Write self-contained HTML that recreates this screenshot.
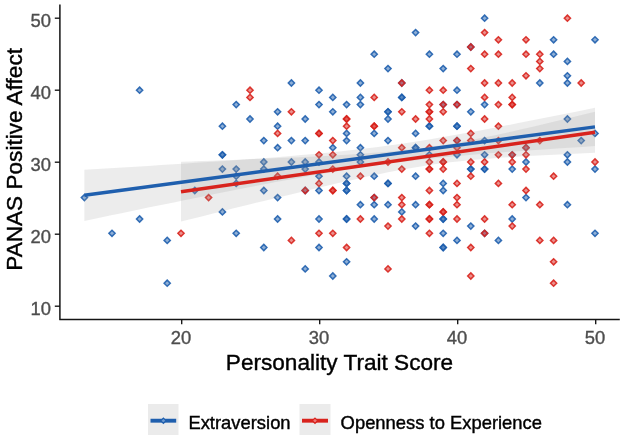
<!DOCTYPE html>
<html><head><meta charset="utf-8"><title>Plot</title>
<style>html,body{margin:0;padding:0;background:#fff}svg{display:block}</style></head>
<body>
<svg width="624" height="439" viewBox="0 0 624 439">
<rect width="624" height="439" fill="#fff"/>
<g fill="#1f5fae" fill-opacity="0.5" stroke="#1f5fae" stroke-opacity="0.9" stroke-width="1.5" stroke-linejoin="miter">
<path d="M84.4 194.5L87.5 197.6L84.4 200.7L81.3 197.6Z"/>
<path d="M112.0 230.2L115.1 233.3L112.0 236.4L108.9 233.3Z"/>
<path d="M139.6 87.1L142.7 90.2L139.6 93.3L136.5 90.2Z"/>
<path d="M139.6 215.9L142.7 219.0L139.6 222.1L136.5 219.0Z"/>
<path d="M167.2 237.3L170.3 240.4L167.2 243.5L164.1 240.4Z"/>
<path d="M167.2 280.1L170.3 283.2L167.2 286.3L164.1 283.2Z"/>
<path d="M194.8 187.4L197.9 190.5L194.8 193.6L191.7 190.5Z"/>
<path d="M222.4 123.1L225.5 126.2L222.4 129.3L219.3 126.2Z"/>
<path d="M222.4 151.7L225.5 154.8L222.4 157.9L219.3 154.8Z"/>
<path d="M222.4 151.7L225.5 154.8L222.4 157.9L219.3 154.8Z"/>
<path d="M222.4 166.0L225.5 169.1L222.4 172.2L219.3 169.1Z"/>
<path d="M222.4 208.8L225.5 211.9L222.4 215.0L219.3 211.9Z"/>
<path d="M236.2 101.5L239.3 104.6L236.2 107.7L233.1 104.6Z"/>
<path d="M236.2 166.0L239.3 169.1L236.2 172.2L233.1 169.1Z"/>
<path d="M236.2 173.1L239.3 176.2L236.2 179.3L233.1 176.2Z"/>
<path d="M236.2 180.3L239.3 183.4L236.2 186.5L233.1 183.4Z"/>
<path d="M236.2 230.2L239.3 233.3L236.2 236.4L233.1 233.3Z"/>
<path d="M250.0 115.9L253.1 119.0L250.0 122.1L246.9 119.0Z"/>
<path d="M263.8 137.5L266.9 140.6L263.8 143.7L260.7 140.6Z"/>
<path d="M263.8 158.9L266.9 162.0L263.8 165.1L260.7 162.0Z"/>
<path d="M263.8 166.0L266.9 169.1L263.8 172.2L260.7 169.1Z"/>
<path d="M263.8 187.4L266.9 190.5L263.8 193.6L260.7 190.5Z"/>
<path d="M263.8 244.4L266.9 247.5L263.8 250.6L260.7 247.5Z"/>
<path d="M277.6 108.7L280.7 111.8L277.6 114.9L274.5 111.8Z"/>
<path d="M277.6 123.1L280.7 126.2L277.6 129.3L274.5 126.2Z"/>
<path d="M277.6 144.6L280.7 147.7L277.6 150.8L274.5 147.7Z"/>
<path d="M277.6 194.5L280.7 197.6L277.6 200.7L274.5 197.6Z"/>
<path d="M277.6 215.9L280.7 219.0L277.6 222.1L274.5 219.0Z"/>
<path d="M291.4 79.9L294.5 83.0L291.4 86.1L288.3 83.0Z"/>
<path d="M291.4 137.5L294.5 140.6L291.4 143.7L288.3 140.6Z"/>
<path d="M291.4 158.9L294.5 162.0L291.4 165.1L288.3 162.0Z"/>
<path d="M305.2 115.9L308.3 119.0L305.2 122.1L302.1 119.0Z"/>
<path d="M305.2 137.5L308.3 140.6L305.2 143.7L302.1 140.6Z"/>
<path d="M305.2 158.9L308.3 162.0L305.2 165.1L302.1 162.0Z"/>
<path d="M305.2 166.0L308.3 169.1L305.2 172.2L302.1 169.1Z"/>
<path d="M305.2 187.4L308.3 190.5L305.2 193.6L302.1 190.5Z"/>
<path d="M305.2 265.8L308.3 268.9L305.2 272.0L302.1 268.9Z"/>
<path d="M319.0 87.1L322.1 90.2L319.0 93.3L315.9 90.2Z"/>
<path d="M319.0 101.5L322.1 104.6L319.0 107.7L315.9 104.6Z"/>
<path d="M319.0 158.9L322.1 162.0L319.0 165.1L315.9 162.0Z"/>
<path d="M319.0 173.1L322.1 176.2L319.0 179.3L315.9 176.2Z"/>
<path d="M319.0 187.4L322.1 190.5L319.0 193.6L315.9 190.5Z"/>
<path d="M319.0 215.9L322.1 219.0L319.0 222.1L315.9 219.0Z"/>
<path d="M319.0 244.4L322.1 247.5L319.0 250.6L315.9 247.5Z"/>
<path d="M332.8 94.3L335.9 97.4L332.8 100.5L329.7 97.4Z"/>
<path d="M332.8 108.7L335.9 111.8L332.8 114.9L329.7 111.8Z"/>
<path d="M332.8 144.6L335.9 147.7L332.8 150.8L329.7 147.7Z"/>
<path d="M332.8 272.9L335.9 276.0L332.8 279.1L329.7 276.0Z"/>
<path d="M346.6 101.5L349.7 104.6L346.6 107.7L343.5 104.6Z"/>
<path d="M346.6 130.3L349.7 133.4L346.6 136.5L343.5 133.4Z"/>
<path d="M346.6 137.5L349.7 140.6L346.6 143.7L343.5 140.6Z"/>
<path d="M346.6 173.1L349.7 176.2L346.6 179.3L343.5 176.2Z"/>
<path d="M346.6 180.3L349.7 183.4L346.6 186.5L343.5 183.4Z"/>
<path d="M346.6 180.3L349.7 183.4L346.6 186.5L343.5 183.4Z"/>
<path d="M346.6 187.4L349.7 190.5L346.6 193.6L343.5 190.5Z"/>
<path d="M346.6 187.4L349.7 190.5L346.6 193.6L343.5 190.5Z"/>
<path d="M346.6 215.9L349.7 219.0L346.6 222.1L343.5 219.0Z"/>
<path d="M346.6 215.9L349.7 219.0L346.6 222.1L343.5 219.0Z"/>
<path d="M346.6 258.7L349.7 261.8L346.6 264.9L343.5 261.8Z"/>
<path d="M360.4 79.9L363.5 83.0L360.4 86.1L357.3 83.0Z"/>
<path d="M360.4 94.3L363.5 97.4L360.4 100.5L357.3 97.4Z"/>
<path d="M360.4 101.5L363.5 104.6L360.4 107.7L357.3 104.6Z"/>
<path d="M360.4 144.6L363.5 147.7L360.4 150.8L357.3 147.7Z"/>
<path d="M360.4 151.7L363.5 154.8L360.4 157.9L357.3 154.8Z"/>
<path d="M360.4 158.9L363.5 162.0L360.4 165.1L357.3 162.0Z"/>
<path d="M360.4 201.6L363.5 204.7L360.4 207.8L357.3 204.7Z"/>
<path d="M374.2 51.1L377.3 54.2L374.2 57.3L371.1 54.2Z"/>
<path d="M374.2 130.3L377.3 133.4L374.2 136.5L371.1 133.4Z"/>
<path d="M374.2 173.1L377.3 176.2L374.2 179.3L371.1 176.2Z"/>
<path d="M374.2 194.5L377.3 197.6L374.2 200.7L371.1 197.6Z"/>
<path d="M374.2 201.6L377.3 204.7L374.2 207.8L371.1 204.7Z"/>
<path d="M374.2 215.9L377.3 219.0L374.2 222.1L371.1 219.0Z"/>
<path d="M388.0 65.5L391.1 68.6L388.0 71.7L384.9 68.6Z"/>
<path d="M388.0 108.7L391.1 111.8L388.0 114.9L384.9 111.8Z"/>
<path d="M388.0 108.7L391.1 111.8L388.0 114.9L384.9 111.8Z"/>
<path d="M388.0 115.9L391.1 119.0L388.0 122.1L384.9 119.0Z"/>
<path d="M388.0 137.5L391.1 140.6L388.0 143.7L384.9 140.6Z"/>
<path d="M388.0 180.3L391.1 183.4L388.0 186.5L384.9 183.4Z"/>
<path d="M388.0 180.3L391.1 183.4L388.0 186.5L384.9 183.4Z"/>
<path d="M388.0 201.6L391.1 204.7L388.0 207.8L384.9 204.7Z"/>
<path d="M401.8 79.9L404.9 83.0L401.8 86.1L398.7 83.0Z"/>
<path d="M401.8 94.3L404.9 97.4L401.8 100.5L398.7 97.4Z"/>
<path d="M401.8 94.3L404.9 97.4L401.8 100.5L398.7 97.4Z"/>
<path d="M401.8 208.8L404.9 211.9L401.8 215.0L398.7 211.9Z"/>
<path d="M415.6 29.5L418.7 32.6L415.6 35.7L412.5 32.6Z"/>
<path d="M415.6 130.3L418.7 133.4L415.6 136.5L412.5 133.4Z"/>
<path d="M415.6 144.6L418.7 147.7L415.6 150.8L412.5 147.7Z"/>
<path d="M415.6 144.6L418.7 147.7L415.6 150.8L412.5 147.7Z"/>
<path d="M415.6 173.1L418.7 176.2L415.6 179.3L412.5 176.2Z"/>
<path d="M415.6 201.6L418.7 204.7L415.6 207.8L412.5 204.7Z"/>
<path d="M415.6 223.0L418.7 226.1L415.6 229.2L412.5 226.1Z"/>
<path d="M429.4 51.1L432.5 54.2L429.4 57.3L426.3 54.2Z"/>
<path d="M429.4 123.1L432.5 126.2L429.4 129.3L426.3 126.2Z"/>
<path d="M429.4 123.1L432.5 126.2L429.4 129.3L426.3 126.2Z"/>
<path d="M429.4 151.7L432.5 154.8L429.4 157.9L426.3 154.8Z"/>
<path d="M443.2 65.5L446.3 68.6L443.2 71.7L440.1 68.6Z"/>
<path d="M443.2 101.5L446.3 104.6L443.2 107.7L440.1 104.6Z"/>
<path d="M443.2 180.3L446.3 183.4L443.2 186.5L440.1 183.4Z"/>
<path d="M443.2 187.4L446.3 190.5L443.2 193.6L440.1 190.5Z"/>
<path d="M443.2 215.9L446.3 219.0L443.2 222.1L440.1 219.0Z"/>
<path d="M443.2 215.9L446.3 219.0L443.2 222.1L440.1 219.0Z"/>
<path d="M443.2 230.2L446.3 233.3L443.2 236.4L440.1 233.3Z"/>
<path d="M443.2 244.4L446.3 247.5L443.2 250.6L440.1 247.5Z"/>
<path d="M443.2 244.4L446.3 247.5L443.2 250.6L440.1 247.5Z"/>
<path d="M457.0 51.1L460.1 54.2L457.0 57.3L453.9 54.2Z"/>
<path d="M457.0 87.1L460.1 90.2L457.0 93.3L453.9 90.2Z"/>
<path d="M457.0 101.5L460.1 104.6L457.0 107.7L453.9 104.6Z"/>
<path d="M457.0 123.1L460.1 126.2L457.0 129.3L453.9 126.2Z"/>
<path d="M457.0 123.1L460.1 126.2L457.0 129.3L453.9 126.2Z"/>
<path d="M457.0 137.5L460.1 140.6L457.0 143.7L453.9 140.6Z"/>
<path d="M457.0 151.7L460.1 154.8L457.0 157.9L453.9 154.8Z"/>
<path d="M457.0 237.3L460.1 240.4L457.0 243.5L453.9 240.4Z"/>
<path d="M470.8 43.9L473.9 47.0L470.8 50.1L467.7 47.0Z"/>
<path d="M470.8 108.7L473.9 111.8L470.8 114.9L467.7 111.8Z"/>
<path d="M470.8 166.0L473.9 169.1L470.8 172.2L467.7 169.1Z"/>
<path d="M470.8 166.0L473.9 169.1L470.8 172.2L467.7 169.1Z"/>
<path d="M470.8 223.0L473.9 226.1L470.8 229.2L467.7 226.1Z"/>
<path d="M484.6 15.1L487.7 18.2L484.6 21.3L481.5 18.2Z"/>
<path d="M484.6 101.5L487.7 104.6L484.6 107.7L481.5 104.6Z"/>
<path d="M484.6 137.5L487.7 140.6L484.6 143.7L481.5 140.6Z"/>
<path d="M484.6 151.7L487.7 154.8L484.6 157.9L481.5 154.8Z"/>
<path d="M484.6 166.0L487.7 169.1L484.6 172.2L481.5 169.1Z"/>
<path d="M484.6 166.0L487.7 169.1L484.6 172.2L481.5 169.1Z"/>
<path d="M484.6 230.2L487.7 233.3L484.6 236.4L481.5 233.3Z"/>
<path d="M498.4 237.3L501.5 240.4L498.4 243.5L495.3 240.4Z"/>
<path d="M512.2 151.7L515.3 154.8L512.2 157.9L509.1 154.8Z"/>
<path d="M512.2 166.0L515.3 169.1L512.2 172.2L509.1 169.1Z"/>
<path d="M512.2 215.9L515.3 219.0L512.2 222.1L509.1 219.0Z"/>
<path d="M526.0 144.6L529.1 147.7L526.0 150.8L522.9 147.7Z"/>
<path d="M526.0 158.9L529.1 162.0L526.0 165.1L522.9 162.0Z"/>
<path d="M526.0 194.5L529.1 197.6L526.0 200.7L522.9 197.6Z"/>
<path d="M539.8 79.9L542.9 83.0L539.8 86.1L536.7 83.0Z"/>
<path d="M553.6 36.7L556.7 39.8L553.6 42.9L550.5 39.8Z"/>
<path d="M553.6 51.1L556.7 54.2L553.6 57.3L550.5 54.2Z"/>
<path d="M567.4 58.3L570.5 61.4L567.4 64.5L564.3 61.4Z"/>
<path d="M567.4 72.7L570.5 75.8L567.4 78.9L564.3 75.8Z"/>
<path d="M567.4 79.9L570.5 83.0L567.4 86.1L564.3 83.0Z"/>
<path d="M567.4 115.9L570.5 119.0L567.4 122.1L564.3 119.0Z"/>
<path d="M567.4 151.7L570.5 154.8L567.4 157.9L564.3 154.8Z"/>
<path d="M567.4 158.9L570.5 162.0L567.4 165.1L564.3 162.0Z"/>
<path d="M567.4 201.6L570.5 204.7L567.4 207.8L564.3 204.7Z"/>
<path d="M581.2 137.5L584.3 140.6L581.2 143.7L578.1 140.6Z"/>
<path d="M595.0 36.7L598.1 39.8L595.0 42.9L591.9 39.8Z"/>
<path d="M595.0 130.3L598.1 133.4L595.0 136.5L591.9 133.4Z"/>
<path d="M595.0 166.0L598.1 169.1L595.0 172.2L591.9 169.1Z"/>
<path d="M595.0 230.2L598.1 233.3L595.0 236.4L591.9 233.3Z"/>
</g>
<g fill="#d8231d" fill-opacity="0.5" stroke="#d8231d" stroke-opacity="0.9" stroke-width="1.5" stroke-linejoin="miter">
<path d="M181.0 230.2L184.1 233.3L181.0 236.4L177.9 233.3Z"/>
<path d="M208.6 194.5L211.7 197.6L208.6 200.7L205.5 197.6Z"/>
<path d="M250.0 87.1L253.1 90.2L250.0 93.3L246.9 90.2Z"/>
<path d="M250.0 94.3L253.1 97.4L250.0 100.5L246.9 97.4Z"/>
<path d="M277.6 130.3L280.7 133.4L277.6 136.5L274.5 133.4Z"/>
<path d="M277.6 173.1L280.7 176.2L277.6 179.3L274.5 176.2Z"/>
<path d="M291.4 108.7L294.5 111.8L291.4 114.9L288.3 111.8Z"/>
<path d="M291.4 237.3L294.5 240.4L291.4 243.5L288.3 240.4Z"/>
<path d="M305.2 187.4L308.3 190.5L305.2 193.6L302.1 190.5Z"/>
<path d="M319.0 130.3L322.1 133.4L319.0 136.5L315.9 133.4Z"/>
<path d="M319.0 130.3L322.1 133.4L319.0 136.5L315.9 133.4Z"/>
<path d="M319.0 151.7L322.1 154.8L319.0 157.9L315.9 154.8Z"/>
<path d="M319.0 180.3L322.1 183.4L319.0 186.5L315.9 183.4Z"/>
<path d="M319.0 230.2L322.1 233.3L319.0 236.4L315.9 233.3Z"/>
<path d="M332.8 137.5L335.9 140.6L332.8 143.7L329.7 140.6Z"/>
<path d="M332.8 151.7L335.9 154.8L332.8 157.9L329.7 154.8Z"/>
<path d="M332.8 166.0L335.9 169.1L332.8 172.2L329.7 169.1Z"/>
<path d="M332.8 187.4L335.9 190.5L332.8 193.6L329.7 190.5Z"/>
<path d="M332.8 187.4L335.9 190.5L332.8 193.6L329.7 190.5Z"/>
<path d="M332.8 230.2L335.9 233.3L332.8 236.4L329.7 233.3Z"/>
<path d="M346.6 115.9L349.7 119.0L346.6 122.1L343.5 119.0Z"/>
<path d="M346.6 115.9L349.7 119.0L346.6 122.1L343.5 119.0Z"/>
<path d="M346.6 123.1L349.7 126.2L346.6 129.3L343.5 126.2Z"/>
<path d="M346.6 244.4L349.7 247.5L346.6 250.6L343.5 247.5Z"/>
<path d="M360.4 173.1L363.5 176.2L360.4 179.3L357.3 176.2Z"/>
<path d="M360.4 215.9L363.5 219.0L360.4 222.1L357.3 219.0Z"/>
<path d="M374.2 94.3L377.3 97.4L374.2 100.5L371.1 97.4Z"/>
<path d="M374.2 123.1L377.3 126.2L374.2 129.3L371.1 126.2Z"/>
<path d="M374.2 123.1L377.3 126.2L374.2 129.3L371.1 126.2Z"/>
<path d="M374.2 194.5L377.3 197.6L374.2 200.7L371.1 197.6Z"/>
<path d="M388.0 158.9L391.1 162.0L388.0 165.1L384.9 162.0Z"/>
<path d="M388.0 223.0L391.1 226.1L388.0 229.2L384.9 226.1Z"/>
<path d="M388.0 265.8L391.1 268.9L388.0 272.0L384.9 268.9Z"/>
<path d="M401.8 79.9L404.9 83.0L401.8 86.1L398.7 83.0Z"/>
<path d="M401.8 108.7L404.9 111.8L401.8 114.9L398.7 111.8Z"/>
<path d="M401.8 144.6L404.9 147.7L401.8 150.8L398.7 147.7Z"/>
<path d="M401.8 166.0L404.9 169.1L401.8 172.2L398.7 169.1Z"/>
<path d="M401.8 194.5L404.9 197.6L401.8 200.7L398.7 197.6Z"/>
<path d="M401.8 201.6L404.9 204.7L401.8 207.8L398.7 204.7Z"/>
<path d="M401.8 215.9L404.9 219.0L401.8 222.1L398.7 219.0Z"/>
<path d="M415.6 115.9L418.7 119.0L415.6 122.1L412.5 119.0Z"/>
<path d="M429.4 87.1L432.5 90.2L429.4 93.3L426.3 90.2Z"/>
<path d="M429.4 101.5L432.5 104.6L429.4 107.7L426.3 104.6Z"/>
<path d="M429.4 108.7L432.5 111.8L429.4 114.9L426.3 111.8Z"/>
<path d="M429.4 108.7L432.5 111.8L429.4 114.9L426.3 111.8Z"/>
<path d="M429.4 115.9L432.5 119.0L429.4 122.1L426.3 119.0Z"/>
<path d="M429.4 144.6L432.5 147.7L429.4 150.8L426.3 147.7Z"/>
<path d="M429.4 158.9L432.5 162.0L429.4 165.1L426.3 162.0Z"/>
<path d="M429.4 166.0L432.5 169.1L429.4 172.2L426.3 169.1Z"/>
<path d="M429.4 166.0L432.5 169.1L429.4 172.2L426.3 169.1Z"/>
<path d="M429.4 187.4L432.5 190.5L429.4 193.6L426.3 190.5Z"/>
<path d="M429.4 201.6L432.5 204.7L429.4 207.8L426.3 204.7Z"/>
<path d="M429.4 201.6L432.5 204.7L429.4 207.8L426.3 204.7Z"/>
<path d="M429.4 215.9L432.5 219.0L429.4 222.1L426.3 219.0Z"/>
<path d="M429.4 215.9L432.5 219.0L429.4 222.1L426.3 219.0Z"/>
<path d="M429.4 230.2L432.5 233.3L429.4 236.4L426.3 233.3Z"/>
<path d="M443.2 87.1L446.3 90.2L443.2 93.3L440.1 90.2Z"/>
<path d="M443.2 101.5L446.3 104.6L443.2 107.7L440.1 104.6Z"/>
<path d="M443.2 108.7L446.3 111.8L443.2 114.9L440.1 111.8Z"/>
<path d="M443.2 137.5L446.3 140.6L443.2 143.7L440.1 140.6Z"/>
<path d="M443.2 158.9L446.3 162.0L443.2 165.1L440.1 162.0Z"/>
<path d="M443.2 158.9L446.3 162.0L443.2 165.1L440.1 162.0Z"/>
<path d="M443.2 166.0L446.3 169.1L443.2 172.2L440.1 169.1Z"/>
<path d="M443.2 208.8L446.3 211.9L443.2 215.0L440.1 211.9Z"/>
<path d="M443.2 208.8L446.3 211.9L443.2 215.0L440.1 211.9Z"/>
<path d="M457.0 101.5L460.1 104.6L457.0 107.7L453.9 104.6Z"/>
<path d="M457.0 137.5L460.1 140.6L457.0 143.7L453.9 140.6Z"/>
<path d="M457.0 144.6L460.1 147.7L457.0 150.8L453.9 147.7Z"/>
<path d="M457.0 180.3L460.1 183.4L457.0 186.5L453.9 183.4Z"/>
<path d="M457.0 194.5L460.1 197.6L457.0 200.7L453.9 197.6Z"/>
<path d="M457.0 201.6L460.1 204.7L457.0 207.8L453.9 204.7Z"/>
<path d="M457.0 215.9L460.1 219.0L457.0 222.1L453.9 219.0Z"/>
<path d="M470.8 43.9L473.9 47.0L470.8 50.1L467.7 47.0Z"/>
<path d="M470.8 65.5L473.9 68.6L470.8 71.7L467.7 68.6Z"/>
<path d="M470.8 130.3L473.9 133.4L470.8 136.5L467.7 133.4Z"/>
<path d="M470.8 137.5L473.9 140.6L470.8 143.7L467.7 140.6Z"/>
<path d="M470.8 158.9L473.9 162.0L470.8 165.1L467.7 162.0Z"/>
<path d="M470.8 173.1L473.9 176.2L470.8 179.3L467.7 176.2Z"/>
<path d="M470.8 244.4L473.9 247.5L470.8 250.6L467.7 247.5Z"/>
<path d="M470.8 272.9L473.9 276.0L470.8 279.1L467.7 276.0Z"/>
<path d="M484.6 29.5L487.7 32.6L484.6 35.7L481.5 32.6Z"/>
<path d="M484.6 51.1L487.7 54.2L484.6 57.3L481.5 54.2Z"/>
<path d="M484.6 79.9L487.7 83.0L484.6 86.1L481.5 83.0Z"/>
<path d="M484.6 94.3L487.7 97.4L484.6 100.5L481.5 97.4Z"/>
<path d="M484.6 115.9L487.7 119.0L484.6 122.1L481.5 119.0Z"/>
<path d="M484.6 158.9L487.7 162.0L484.6 165.1L481.5 162.0Z"/>
<path d="M484.6 215.9L487.7 219.0L484.6 222.1L481.5 219.0Z"/>
<path d="M484.6 230.2L487.7 233.3L484.6 236.4L481.5 233.3Z"/>
<path d="M498.4 36.7L501.5 39.8L498.4 42.9L495.3 39.8Z"/>
<path d="M498.4 51.1L501.5 54.2L498.4 57.3L495.3 54.2Z"/>
<path d="M498.4 79.9L501.5 83.0L498.4 86.1L495.3 83.0Z"/>
<path d="M498.4 101.5L501.5 104.6L498.4 107.7L495.3 104.6Z"/>
<path d="M498.4 123.1L501.5 126.2L498.4 129.3L495.3 126.2Z"/>
<path d="M498.4 137.5L501.5 140.6L498.4 143.7L495.3 140.6Z"/>
<path d="M498.4 151.7L501.5 154.8L498.4 157.9L495.3 154.8Z"/>
<path d="M498.4 180.3L501.5 183.4L498.4 186.5L495.3 183.4Z"/>
<path d="M512.2 79.9L515.3 83.0L512.2 86.1L509.1 83.0Z"/>
<path d="M512.2 94.3L515.3 97.4L512.2 100.5L509.1 97.4Z"/>
<path d="M512.2 101.5L515.3 104.6L512.2 107.7L509.1 104.6Z"/>
<path d="M512.2 101.5L515.3 104.6L512.2 107.7L509.1 104.6Z"/>
<path d="M512.2 151.7L515.3 154.8L512.2 157.9L509.1 154.8Z"/>
<path d="M512.2 158.9L515.3 162.0L512.2 165.1L509.1 162.0Z"/>
<path d="M512.2 201.6L515.3 204.7L512.2 207.8L509.1 204.7Z"/>
<path d="M512.2 223.0L515.3 226.1L512.2 229.2L509.1 226.1Z"/>
<path d="M526.0 36.7L529.1 39.8L526.0 42.9L522.9 39.8Z"/>
<path d="M526.0 51.1L529.1 54.2L526.0 57.3L522.9 54.2Z"/>
<path d="M526.0 72.7L529.1 75.8L526.0 78.9L522.9 75.8Z"/>
<path d="M526.0 144.6L529.1 147.7L526.0 150.8L522.9 147.7Z"/>
<path d="M526.0 151.7L529.1 154.8L526.0 157.9L522.9 154.8Z"/>
<path d="M526.0 166.0L529.1 169.1L526.0 172.2L522.9 169.1Z"/>
<path d="M526.0 187.4L529.1 190.5L526.0 193.6L522.9 190.5Z"/>
<path d="M539.8 51.1L542.9 54.2L539.8 57.3L536.7 54.2Z"/>
<path d="M539.8 58.3L542.9 61.4L539.8 64.5L536.7 61.4Z"/>
<path d="M539.8 65.5L542.9 68.6L539.8 71.7L536.7 68.6Z"/>
<path d="M539.8 137.5L542.9 140.6L539.8 143.7L536.7 140.6Z"/>
<path d="M539.8 201.6L542.9 204.7L539.8 207.8L536.7 204.7Z"/>
<path d="M539.8 237.3L542.9 240.4L539.8 243.5L536.7 240.4Z"/>
<path d="M553.6 173.1L556.7 176.2L553.6 179.3L550.5 176.2Z"/>
<path d="M553.6 237.3L556.7 240.4L553.6 243.5L550.5 240.4Z"/>
<path d="M553.6 258.7L556.7 261.8L553.6 264.9L550.5 261.8Z"/>
<path d="M553.6 280.1L556.7 283.2L553.6 286.3L550.5 283.2Z"/>
<path d="M567.4 15.1L570.5 18.2L567.4 21.3L564.3 18.2Z"/>
<path d="M581.2 79.9L584.3 83.0L581.2 86.1L578.1 83.0Z"/>
<path d="M595.0 158.9L598.1 162.0L595.0 165.1L591.9 162.0Z"/>
</g>
<path d="M84.4 169.7L97.2 169.0L109.9 168.2L122.7 167.4L135.5 166.7L148.2 165.9L161.0 165.1L173.8 164.3L186.5 163.5L199.3 162.6L212.1 161.8L224.8 160.9L237.6 160.0L250.3 159.1L263.1 158.2L275.9 157.2L288.6 156.2L301.4 155.1L314.2 153.9L326.9 152.7L339.7 151.4L352.5 150.1L365.2 148.6L378.0 147.0L390.8 145.2L403.5 143.4L416.3 141.5L429.1 139.4L441.8 137.3L454.6 135.1L467.4 132.8L480.1 130.4L492.9 128.0L505.6 125.6L518.4 123.1L531.2 120.6L543.9 118.1L556.7 115.5L569.5 113.0L582.2 110.4L595.0 107.8L595.0 146.0L582.2 146.9L569.5 147.7L556.7 148.5L543.9 149.4L531.2 150.3L518.4 151.2L505.6 152.1L492.9 153.1L480.1 154.1L467.4 155.2L454.6 156.3L441.8 157.5L429.1 158.8L416.3 160.2L403.5 161.7L390.8 163.3L378.0 165.0L365.2 166.8L352.5 168.7L339.7 170.8L326.9 172.9L314.2 175.1L301.4 177.4L288.6 179.7L275.9 182.1L263.1 184.5L250.3 187.0L237.6 189.5L224.8 192.1L212.1 194.6L199.3 197.2L186.5 199.8L173.8 202.4L161.0 205.0L148.2 207.6L135.5 210.2L122.7 212.9L109.9 215.5L97.2 218.2L84.4 220.9Z" fill="#999" fill-opacity="0.185"/>
<path d="M181.0 161.8L191.3 161.5L201.7 161.1L212.1 160.7L222.4 160.3L232.8 159.9L243.1 159.5L253.4 159.1L263.8 158.7L274.2 158.3L284.5 157.8L294.9 157.4L305.2 156.9L315.6 156.4L325.9 155.9L336.2 155.3L346.6 154.7L356.9 154.0L367.3 153.3L377.7 152.6L388.0 151.7L398.4 150.7L408.7 149.6L419.1 148.4L429.4 147.1L439.8 145.5L450.1 143.9L460.4 142.1L470.8 140.1L481.2 138.1L491.5 135.9L501.9 133.7L512.2 131.4L522.5 129.1L532.9 126.7L543.2 124.3L553.6 121.8L564.0 119.3L574.3 116.8L584.6 114.3L595.0 111.8L595.0 152.8L584.6 153.3L574.3 153.7L564.0 154.2L553.6 154.7L543.2 155.2L532.9 155.7L522.5 156.3L512.2 157.0L501.9 157.6L491.5 158.4L481.2 159.2L470.8 160.1L460.4 161.2L450.1 162.3L439.8 163.6L429.4 165.1L419.1 166.7L408.7 168.4L398.4 170.3L388.0 172.3L377.7 174.4L367.3 176.6L356.9 178.9L346.6 181.2L336.2 183.5L325.9 186.0L315.6 188.4L305.2 190.9L294.9 193.4L284.5 195.9L274.2 198.4L263.8 200.9L253.4 203.5L243.1 206.0L232.8 208.6L222.4 211.2L212.1 213.8L201.7 216.4L191.3 219.0L181.0 221.6Z" fill="#999" fill-opacity="0.185"/>
<line x1="84.4" y1="195.3" x2="595.0" y2="126.9" stroke="#1f5fae" stroke-width="3.4"/>
<line x1="181.0" y1="191.7" x2="595.0" y2="132.3" stroke="#d8231d" stroke-width="3.4"/>
<path d="M59.9 4.5V320.1M59.3 319.5H619.8" stroke="#141414" stroke-width="1.5" fill="none"/>
<path d="M54.8 306.2H60" stroke="#141414" stroke-width="1.35"/>
<path d="M54.8 234.2H60" stroke="#141414" stroke-width="1.35"/>
<path d="M54.8 162.2H60" stroke="#141414" stroke-width="1.35"/>
<path d="M54.8 90.2H60" stroke="#141414" stroke-width="1.35"/>
<path d="M54.8 18.2H60" stroke="#141414" stroke-width="1.35"/>
<path d="M181.7 319.5V324.3" stroke="#141414" stroke-width="1.35"/>
<path d="M319.7 319.5V324.3" stroke="#141414" stroke-width="1.35"/>
<path d="M457.7 319.5V324.3" stroke="#141414" stroke-width="1.35"/>
<path d="M595.7 319.5V324.3" stroke="#141414" stroke-width="1.35"/>
<g font-family="Liberation Sans, Arial, sans-serif" font-size="18.4" fill="#4d4d4d" stroke="#4d4d4d" stroke-width="0.35">
<text x="51" y="314.5" text-anchor="end">10</text>
<text x="51" y="242.5" text-anchor="end">20</text>
<text x="51" y="170.5" text-anchor="end">30</text>
<text x="51" y="98.5" text-anchor="end">40</text>
<text x="51" y="26.5" text-anchor="end">50</text>
<text x="181.1" y="343.8" text-anchor="middle">20</text>
<text x="319.1" y="343.8" text-anchor="middle">30</text>
<text x="457.1" y="343.8" text-anchor="middle">40</text>
<text x="595.1" y="343.8" text-anchor="middle">50</text>
</g>
<g font-family="Liberation Sans, Arial, sans-serif" fill="#000" stroke="#000" stroke-width="0.4">
<text x="339.5" y="370" font-size="22.6" text-anchor="middle">Personality Trait Score</text>
<text transform="translate(21.9 159.4) rotate(-90)" font-size="22.6" text-anchor="middle">PANAS Positive Affect</text>
<rect x="148" y="404" width="30.5" height="31" fill="#ebebeb" stroke="none"/>
<rect x="299.5" y="404" width="31" height="31" fill="#ebebeb" stroke="none"/>
<line x1="150.5" y1="420.7" x2="176.2" y2="420.7" stroke="#1f5fae" stroke-width="3.9"/>
<line x1="302" y1="420.7" x2="328" y2="420.7" stroke="#d8231d" stroke-width="3.9"/>
<path d="M163.4 418.1L166.0 420.7L163.4 423.3L160.8 420.7Z" fill="#6b98cf" stroke="#1f5fae" stroke-width="1.2"/>
<path d="M315.0 418.1L317.6 420.7L315.0 423.3L312.4 420.7Z" fill="#e77" stroke="#d8231d" stroke-width="1.2"/>
<text x="188.4" y="428.8" font-size="18.4">Extraversion</text>
<text x="340.6" y="428.8" font-size="18.4">Openness to Experience</text>
</g>
</svg>
</body></html>
